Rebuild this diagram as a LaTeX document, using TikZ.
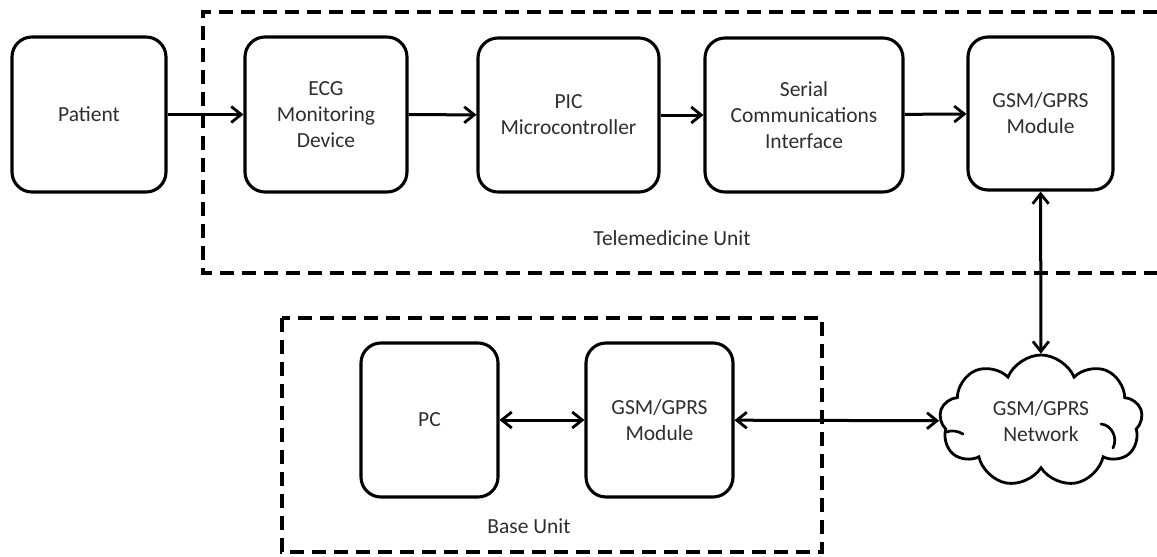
\documentclass[tikz,border=0pt]{standalone}
\usepackage{fontspec}
\setmainfont{Carlito}
\usetikzlibrary{arrows.meta,shapes.symbols}

\tikzset{
  barb/.tip={Straight Barb[length=10pt,width=16pt,line width=2.8pt]},
  block/.style={draw=black, line width=3.1pt, rounded corners=20pt,
    minimum width=#1, align=center, inner sep=0pt,
    font=\fontsize{21.5}{26}\selectfont, text=black!82},
  unitframe/.style={draw=black, line width=3.2pt, dash pattern=on 14pt off 8pt},
  link/.style={line width=3pt, -barb},
  duplex/.style={line width=3pt, barb-barb},
  caption/.style={font=\fontsize{21.5}{26}\selectfont, text=black!82},
  curl/.style={line width=2.7pt, line cap=round}
}

\begin{document}
\begin{tikzpicture}[x=1pt,y=-1pt]
\useasboundingbox (0,0) rectangle (1157,557);

% unit frames
\draw[unitframe] (1157,12) -- (203,12) -- (203,273) -- (1157,273);
\draw[unitframe] (282,318) rectangle (822,552);

% telemedicine unit chain
\node[block=154pt, minimum height=155pt] (patient) at (89,114.5) {Patient};
\node[block=162pt, minimum height=155pt] (ecg) at (326,114.5) {ECG\\Monitoring\\Device};
\node[block=181pt, minimum height=154pt] (pic) at (568.5,115) {PIC\\Microcontroller};
\node[block=198pt, minimum height=154pt] (serial) at (804,115) {Serial\\Communications\\Interface};
\node[block=145pt, minimum height=153pt] (gsmT) at (1040.5,113.5) {GSM/GPRS\\Module};

% base unit
\node[block=137pt, minimum height=154pt] (pc) at (429.5,420) {PC};
\node[block=147pt, minimum height=154pt] (gsmB) at (659.5,420) {GSM/GPRS\\Module};

% network cloud with its inner curls
\node[cloud, draw=black, line width=2.8pt, cloud puffs=9, cloud puff arc=135,
      aspect=1.55, minimum width=203pt, minimum height=132pt, inner sep=0pt,
      align=center, font=\fontsize{21.5}{26}\selectfont, text=black!82]
      (net) at (1041,421) {GSM/GPRS\\Network};
\draw[curl] (946,432) .. controls (952,430) and (958,431) .. (963,434);
\draw[curl] (1101,424) .. controls (1112,425) and (1118,438) .. (1113,448);

% captions
\node[caption] (telecap) at (672,238) {Telemedicine Unit};
\node[caption] (basecap) at (529,526) {Base Unit};

% connectors
\draw[link] (patient) -- (ecg);
\draw[link] (ecg) -- (pic);
\draw[link] (pic) -- (serial);
\draw[link] (serial) -- (gsmT);
\draw[duplex] (gsmT) -- (net);
\draw[duplex] (pc) -- (gsmB);
\draw[duplex] (gsmB) -- (net);
\end{tikzpicture}
\end{document}
